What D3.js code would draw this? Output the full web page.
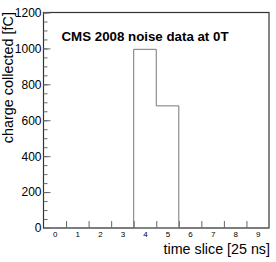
<!DOCTYPE html>
<html>
<head>
<meta charset="utf-8">
<script src="https://cdn.jsdelivr.net/npm/d3@7"></script>
<style>
  body { margin: 0; background: #fff; }
  svg { display: block; font-family: "Liberation Sans", Arial, sans-serif; }
</style>
</head>
<body>
<svg id="chart" width="276" height="262"></svg>
<script>
// histogram data: one count per time slice
var slices = [0, 1, 2, 3, 4, 5, 6, 7, 8, 9];
var charge = [0, 0, 0, 0, 995, 680, 0, 0, 0, 0];
var yTicks = [0, 200, 400, 600, 800, 1000, 1200];
var title = "CMS 2008 noise data at 0T";

var svg = d3.select("#chart");
// plot frame edges (note: "top" is reserved on window)
var frameL = 43.5, frameR = 269, frameT = 12.5, frameB = 228;

var x = d3.scaleLinear().domain([-0.5, 9.5]).range([frameL, frameR]);
var y = d3.scaleLinear().domain([0, 1200]).range([frameB, frameT]);

// frame
svg.append("rect")
    .attr("x", frameL).attr("y", frameT)
    .attr("width", frameR - frameL).attr("height", frameB - frameT)
    .attr("fill", "none")
    .attr("stroke", "#333")
    .attr("stroke-width", 1.2);

// minor y ticks
svg.append("g")
    .attr("transform", `translate(${frameL},0)`)
    .call(d3.axisLeft(y).tickValues(d3.range(0, 1201, 50)).tickSize(-4).tickFormat(""))
    .call(g => g.select(".domain").remove())
    .call(g => g.selectAll("line").attr("stroke", "#666"));

// major y ticks + labels
svg.append("g")
    .attr("transform", `translate(${frameL},0)`)
    .call(d3.axisLeft(y).tickValues(yTicks).tickSize(-7).tickPadding(2).tickFormat(d3.format("d")))
    .call(g => g.select(".domain").remove())
    .call(g => g.selectAll("line").attr("stroke", "#666"))
    .call(g => g.selectAll("text")
        .attr("font-size", 12)
        .attr("font-family", "Liberation Sans, Arial, sans-serif")
        .attr("fill", "#000"));

// x ticks at bin edges
svg.append("g")
    .attr("transform", `translate(0,${frameB})`)
    .call(d3.axisBottom(x).tickValues(slices.slice(0, 9).map(d => d + 0.5)).tickSize(-7).tickFormat(""))
    .call(g => g.select(".domain").remove())
    .call(g => g.selectAll("line").attr("stroke", "#666"));

// x labels at bin centres
svg.append("g")
    .attr("transform", `translate(0,${frameB})`)
    .call(d3.axisBottom(x).tickValues(slices).tickSize(0).tickPadding(3).tickFormat(d3.format("d")))
    .call(g => g.select(".domain").remove())
    .call(g => g.selectAll("text")
        .attr("font-size", 8)
        .attr("font-family", "Liberation Sans, Arial, sans-serif")
        .attr("fill", "#000"));

// histogram outline as a step line
var steps = [];
slices.forEach(function (s, i) {
    steps.push([s - 0.5, charge[i]]);
    steps.push([s + 0.5, charge[i]]);
});
svg.append("path")
    .datum(steps)
    .attr("fill", "none")
    .attr("stroke", "#777")
    .attr("stroke-width", 1)
    .attr("d", d3.line().x(d => x(d[0])).y(d => y(d[1])));

// title
svg.append("text")
    .attr("x", 61.5).attr("y", 41)
    .attr("font-size", 13.3)
    .attr("font-weight", "bold")
    .text(title);

// axis titles
svg.append("text")
    .attr("x", frameR + 1).attr("y", 254)
    .attr("text-anchor", "end")
    .attr("font-size", 14.3)
    .text("time slice [25 ns]");

svg.append("text")
    .attr("transform", `translate(12.5,${frameT - 0.5}) rotate(-90)`)
    .attr("text-anchor", "end")
    .attr("font-size", 14.4)
    .text("charge collected [fC]");
</script>
</body>
</html>
